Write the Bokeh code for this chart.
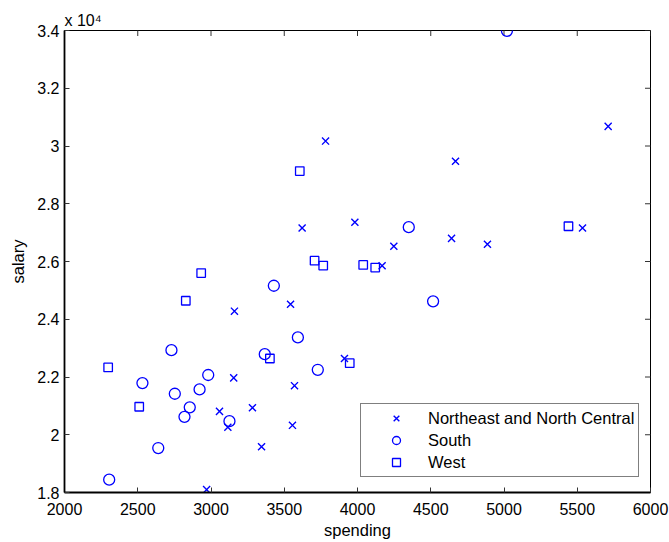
import math
from bokeh.plotting import figure
from bokeh.models import FixedTicker, Range1d
from bokeh.embed import file_html
from bokeh.resources import INLINE

# ---- data ----
ne_spending = [2970, 3160, 3543, 3155, 3570, 3911, 3058, 3115, 3283, 3556, 3345,
               3782, 3622, 3982, 4669, 5711, 4248, 4642, 4887, 5536, 4168]
ne_salary = [18100, 24280, 24520, 21970, 21700, 22640, 20810, 20257, 20936, 20326, 19587,
             30170, 27160, 27360, 29470, 30680, 26530, 26800, 26600, 27160, 25850]

south_spending = [5020, 4350, 4516, 3429, 3593, 3367, 3729, 2730, 2981, 2532, 2753,
                  2922, 2855, 2819, 3126, 2640, 2305]
south_salary = [33990, 27190, 24620, 25160, 23370, 22790, 22250, 22930, 22070, 21790, 21420,
                21570, 20950, 20620, 20470, 19540, 18445]

west_spending = [3606, 3707, 3766, 4039, 4121, 3947, 5440, 2933, 2828, 3402, 2298, 2510]
west_salary = [29130, 26030, 25860, 25880, 25790, 22480, 27220, 25600, 24640, 22640, 22330, 20970]

series_names = ["Northeast and North Central", "South", "West"]

x_ticks = [2000, 2500, 3000, 3500, 4000, 4500, 5000, 5500, 6000]
x_tick_labels = ["2000", "2500", "3000", "3500", "4000", "4500", "5000", "5500", "6000"]
y_ticks = [18000, 20000, 22000, 24000, 26000, 28000, 30000, 32000, 34000]
y_tick_labels = ["1.8", "2", "2.2", "2.4", "2.6", "2.8", "3", "3.2", "3.4"]

x_label = "spending"
y_label = "salary"
exponent_text = "x 10\u2074"

FONT = "Liberation Sans"
BLUE = "#0000ff"

p = figure(width=669, height=542, output_backend="svg", toolbar_location=None,
           x_range=Range1d(x_ticks[0], x_ticks[-1]), y_range=Range1d(y_ticks[0], y_ticks[-1]),
           min_border_left=64, min_border_right=19, min_border_top=30, min_border_bottom=50,
           background_fill_color="white", border_fill_color="white")

p.xgrid.visible = False
p.ygrid.visible = False
p.outline_line_color = "black"
p.outline_line_width = 1

p.title.text = exponent_text
p.title.align = "left"
p.title.text_font = FONT
p.title.text_font_size = "16px"
p.title.text_font_style = "normal"
p.title.text_color = "black"
p.title.standoff = 3
p.title.offset = 0


def style_axis(ax, ticks, labels):
    ax.ticker = FixedTicker(ticks=ticks)
    ax.major_label_overrides = {t: l for t, l in zip(ticks, labels)}
    ax.major_tick_in = 5
    ax.major_tick_out = 0
    ax.minor_tick_line_color = None
    ax.axis_line_color = "black"
    ax.axis_line_width = 1.8
    ax.major_tick_line_color = "#333333"
    ax.major_tick_line_width = 1
    ax.major_label_text_font = FONT
    ax.major_label_text_color = "black"
    ax.major_label_text_font_size = "16px"
    ax.axis_label_text_font = FONT
    ax.axis_label_text_font_size = "16.5px"
    ax.axis_label_text_font_style = "normal"
    ax.axis_label_text_color = "black"


xax = p.xaxis[0]
yax = p.yaxis[0]
style_axis(xax, x_ticks, x_tick_labels)
style_axis(yax, y_ticks, y_tick_labels)
xax.axis_label = x_label
yax.axis_label = y_label
xax.major_label_standoff = 10
xax.axis_label_standoff = 3
yax.major_label_standoff = 5
yax.axis_label_standoff = 7

# inward ticks on the top and right edges of the box (half of each dash is clipped)
p.scatter(x_ticks, [y_ticks[-1]] * len(x_ticks), marker="dash", angle=math.pi / 2,
          size=11, line_color="#333333", line_width=1)
p.scatter([x_ticks[-1]] * len(y_ticks), y_ticks, marker="dash",
          size=11, line_color="#333333", line_width=1)

p.scatter(ne_spending, ne_salary, marker="x", size=10, line_color=BLUE, line_width=1.4,
          legend_label=series_names[0])
p.scatter(south_spending, south_salary, marker="circle", size=11, line_color=BLUE,
          fill_color=None, line_width=1.3, legend_label=series_names[1])
p.scatter(west_spending, west_salary, marker="square", size=8.5, line_color=BLUE,
          fill_color=None, line_width=1.3, legend_label=series_names[2])

leg = p.legend[0]
leg.location = (296, 15)
leg.border_line_color = "black"
leg.border_line_width = 1
leg.background_fill_color = "white"
leg.background_fill_alpha = 1
leg.padding = 4
leg.margin = 0
leg.spacing = 2
leg.glyph_width = 62
leg.glyph_height = 20
leg.label_height = 20
leg.label_standoff = 1
leg.label_text_font = FONT
leg.label_text_font_size = "16.5px"
leg.label_text_color = "black"

open("out.html", "w").write(file_html(p, INLINE))
